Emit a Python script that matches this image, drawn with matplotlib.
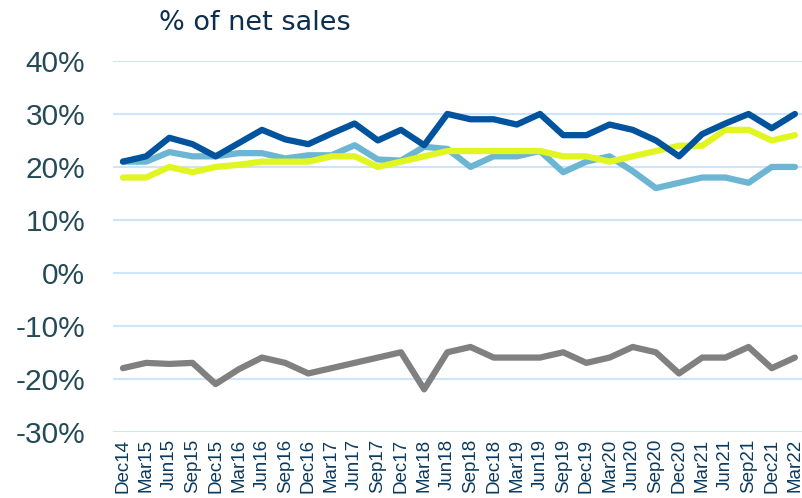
import matplotlib.pyplot as plt
import numpy as np

# Quarterly periods, Dec14 to Mar22
quarters = ["Dec14", "Mar15", "Jun15", "Sep15", "Dec15", "Mar16", "Jun16", "Sep16",
            "Dec16", "Mar17", "Jun17", "Sep17", "Dec17", "Mar18", "Jun18", "Sep18",
            "Dec18", "Mar19", "Jun19", "Sep19", "Dec19", "Mar20", "Jun20", "Sep20",
            "Dec20", "Mar21", "Jun21", "Sep21", "Dec21", "Mar22"]

# % of net sales per series
dark_blue = [21, 22, 25.5, 24.3, 22, 24.5, 27, 25.2, 24.3, 26.3, 28.2, 25, 27, 24.1, 30,
             29, 29, 28, 30, 26, 26, 28, 27, 25, 22, 26.2, 28.2, 30, 27.3, 30]
light_blue = [21, 21, 22.8, 22, 22, 22.6, 22.6, 21.6, 22.2, 22.2, 24.1, 21.4, 21.2, 23.8, 23.4,
              20, 22, 22, 23, 19, 21, 22, 19.2, 16, 17, 18, 18, 17, 20, 20]
yellow = [18, 18, 20, 19, 20, 20.4, 21, 21, 21, 22, 22, 20, 21, 22, 23,
          23, 23, 23, 23, 22, 22, 21, 22, 23, 24, 24, 27, 27, 25, 26]
grey = [-18, -17, -17.2, -17, -21, -18.2, -16, -17, -19, -18, -17, -16, -15, -22, -15,
        -14, -16, -16, -16, -15, -17, -16, -14, -15, -19, -16, -16, -14, -18, -16]

x = np.arange(len(quarters))

fig = plt.figure(figsize=(8.03, 4.98), dpi=100)
ax = fig.add_axes([0.1407, 0.1331, 0.8593, 0.7444])

ax.plot(x, grey, color="#808080", lw=4.5, solid_capstyle="round", zorder=3)
ax.plot(x, light_blue, color="#6CB6D4", lw=4.5, solid_capstyle="round", zorder=4)
ax.plot(x, yellow, color="#E1F520", lw=4.5, solid_capstyle="round", zorder=5)
ax.plot(x, dark_blue, color="#00539C", lw=4.5, solid_capstyle="round", zorder=6)

ax.set_xlim(-0.43, 29.35)
ax.set_ylim(-30, 40)
ax.set_yticks(np.arange(-30, 41, 10))
ax.set_yticklabels([f"{v}%" for v in range(-30, 41, 10)], fontsize=21.5,
                   color="#244A58", family="Liberation Sans")
ax.set_xticks(x)
ax.set_xticklabels(quarters, rotation=90, fontsize=13.5, color="#0B3A5E",
                   family="Liberation Sans")
ax.tick_params(axis="y", length=0, pad=20)
ax.tick_params(axis="x", length=0, pad=5)
ax.grid(axis="y", color="#CCE5FA", lw=1.5)
ax.set_axisbelow(True)
for s in ax.spines.values():
    s.set_visible(False)

fig.text(0.318, 0.953, "% of net sales", fontsize=19.5, color="#0E2E4E",
         ha="center", va="center", family="DejaVu Sans")

fig.savefig("out.png", dpi=100)
